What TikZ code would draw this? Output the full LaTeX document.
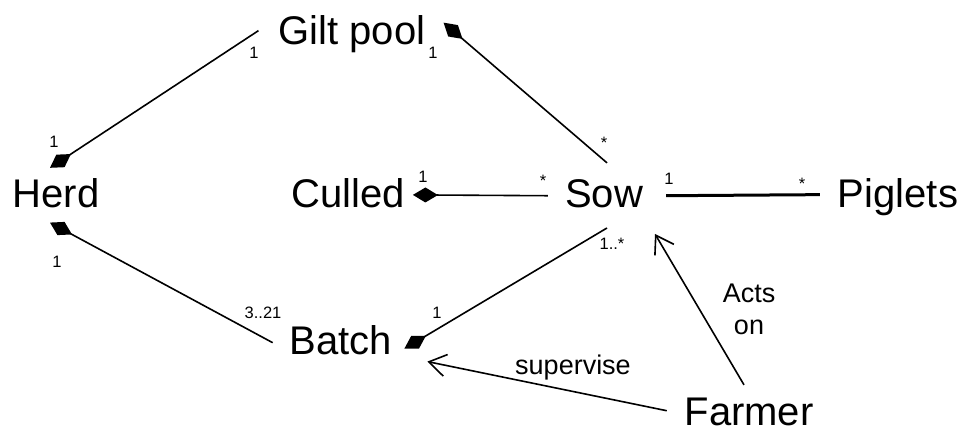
\documentclass[tikz,border=0pt]{standalone}
\usepackage{fontspec}
\setmainfont{Liberation Sans}
\usetikzlibrary{arrows.meta}

\tikzset{
  cls/.style={font=\fontsize{40}{48}\selectfont, inner sep=0pt, anchor=base},
  mult/.style={font=\fontsize{16.5}{18}\selectfont, inner sep=0pt, anchor=base},
  rel/.style={font=\fontsize{27}{32}\selectfont, inner sep=0pt, align=center},
  assoc/.style={line width=1.6pt},
  comp/.style={line width=1.6pt, {Diamond[length=25pt,width=15pt]}-},
  uses/.style={line width=1.6pt, -{Straight Barb[length=17pt,width=22pt]}},
}

\begin{document}
\begin{tikzpicture}[x=1pt, y=1pt]
\useasboundingbox (0,0) rectangle (962,435);


% Classes
\node[cls] (herd) at (56,227) {Herd};
\node[cls] (gilt) at (352,390) {Gilt pool};
\node[cls] (culled) at (348,227) {Culled};
\node[cls] (sow) at (604,227) {Sow};
\node[cls] (piglets) at (898,227) {Piglets};
\node[cls] (batch) at (341,80) {Batch};
\node[cls] (farmer) at (749,9) {Farmer};


% Herd -- Gilt pool
\draw[comp] ([shift={(-6,11)}]herd.north) -- ([shift={(-20,4)}]gilt.west);
\node[mult] (herd-gilt-a) at (54,287) {1};
\node[mult] (herd-gilt-b) at (254,376) {1};

% Herd -- Batch
\draw[comp] ([shift={(-6,-14)}]herd.south) -- ([shift={(-17,-2)}]batch.west);
\node[mult] (herd-batch-a) at (57,167) {1};
\node[mult] (herd-batch-b) at (263,116) {3..21};


% Gilt pool -- Sow
\draw[comp] ([shift={(18,12)}]gilt.east) -- ([shift={(3,17)}]sow.north);
\node[mult] (gilt-sow-a) at (433,376) {1};
\node[mult] (gilt-sow-b) at (604,286) {*};

% Culled -- Sow
\draw[comp] ([shift={(8,-1.2)}]culled.east) -- ([shift={(-17,-1.5)}]sow.west);
\node[mult] (culled-sow-a) at (423,252) {1};
\node[mult] (culled-sow-b) at (543,248) {*};

% Sow -- Piglets
\draw[assoc, line width=3pt] ([shift={(23,-1.5)}]sow.east) -- ([shift={(-18,3)}]piglets.west);
\node[mult] (sow-piglets-a) at (669,250) {1};
\node[mult] (sow-piglets-b) at (802,245) {*};


% Batch -- Sow
\draw[comp] ([shift={(12,-8)}]batch.east) -- ([shift={(3,-19.4)}]sow.south);
\node[mult] (batch-sow-a) at (437,116) {1};
\node[mult] (batch-sow-b) at (612,185) {1..*};


% Farmer acts on sow
\draw[uses] ([shift={(-5,13.4)}]farmer.north) -- ([shift={(51,-25.4)}]sow.south);
\node[rel] (acts) at (749,126) {Acts\\on};

% Farmer supervises batch
\draw[uses] ([shift={(-17.6,1.7)}]farmer.west) -- ([shift={(35,-6)}]batch.south east);
\node[rel, anchor=base] (supervise) at (573,60) {supervise};


\end{tikzpicture}
\end{document}
